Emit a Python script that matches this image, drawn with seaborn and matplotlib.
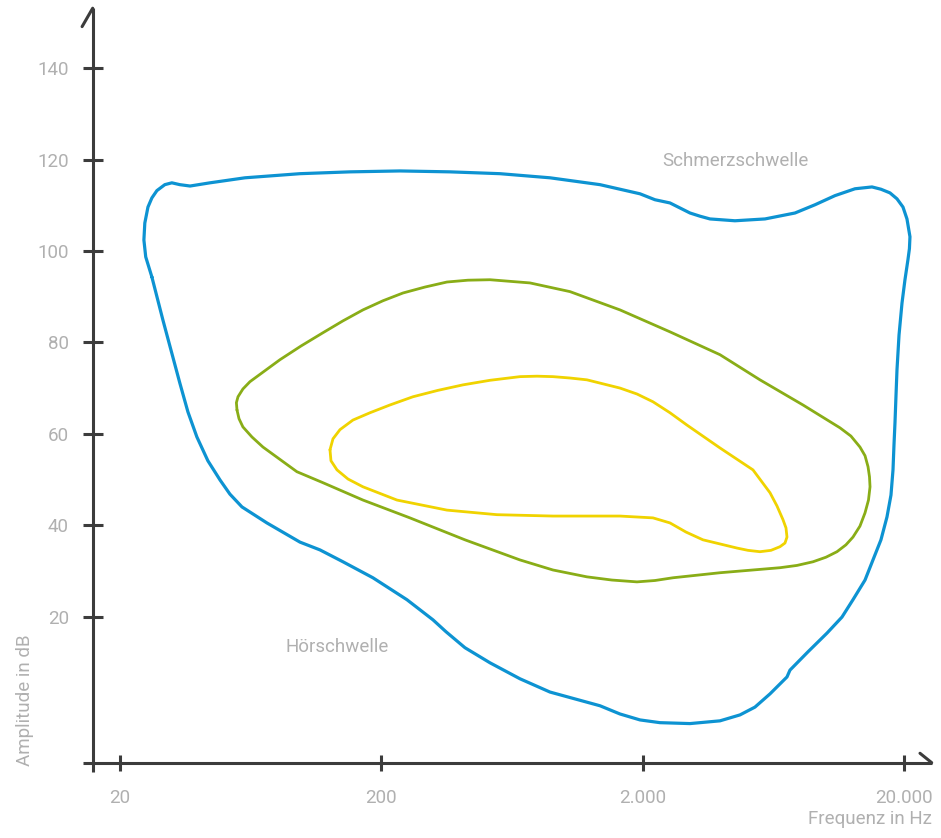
import numpy as np
import pandas as pd
import matplotlib
matplotlib.use("Agg")
import matplotlib.pyplot as plt
import seaborn as sns

# =====================================
# Data (frequency in Hz, level in dB)
# =====================================

# Schmerzschwelle / Hörschwelle outline (blue)
blue_hz = [26.5, 25.1, 24.7, 24.9, 25.6, 26.5, 27.7, 29.7, 31.6, 33.9,
           37.1, 44.2, 60.2, 97.7, 151.8, 235.8, 366.4, 569.2, 884.3, 1374,
           1955, 2231, 2546, 3037, 3317, 3622, 4514, 5882, 7661, 9138,
           10900, 13000, 15100, 16340, 17690, 18820, 19840, 20550, 21100, 21000,
           20730, 20190, 19670, 19160, 18820, 18660, 18490, 18330, 18170, 17850,
           17230, 16340, 15230, 14200, 12770, 11590, 10160, 8590, 7331, 7139,
           6147, 5383, 4719, 3956, 3037, 2331, 1955, 1639, 1374, 1102,
           884.3, 679.0, 521.2, 418.1, 353.7, 315.4, 250.8, 185.8, 142.7, 116.5,
           97.7, 73.0, 58.6, 52.7, 48.3, 43.4, 39.4, 36.4, 33.9, 29.2]
blue_db = [94.3, 98.7, 102.4, 106.1, 109.6, 111.6, 113.2, 114.5, 114.9, 114.5,
           114.2, 114.9, 116.0, 116.9, 117.3, 117.5, 117.3, 116.9, 116.0, 114.5,
           112.5, 111.2, 110.5, 108.3, 107.6, 107.0, 106.6, 107.0, 108.3, 110.1,
           112.1, 113.6, 114.0, 113.5, 112.7, 111.4, 109.6, 107.0, 103.1, 100.5,
           98.1, 93.7, 88.6, 81.6, 74.0, 68.5, 62.4, 57.6, 52.1, 46.6,
           41.8, 36.8, 32.4, 28.0, 23.7, 19.9, 16.4, 12.3, 8.3, 6.8,
           3.1, 0.2, -1.5, -2.8, -3.4, -3.2, -2.6, -1.3, 0.5, 2.0,
           3.5, 6.4, 9.9, 13.2, 16.7, 19.3, 23.7, 28.5, 32.0, 34.6,
           36.3, 40.5, 44.0, 46.8, 49.9, 54.1, 59.3, 64.8, 71.1, 84.9]

# Musik (green)
green_hz = [56.1, 55.8, 56.6, 59.1, 62.9, 81.9, 98.6, 119.6, 142.7, 170.2,
            203.0, 242.2, 294.0, 356.8, 429.3, 521.2, 741.7, 1055, 1639, 2546,
            3956, 5627, 8220, 11390, 12540, 13580, 14200, 14580, 14770, 14840,
            14640, 14200, 13580, 12770, 12000, 11090, 10070, 8980, 7797, 6714,
            3956, 2615, 2231, 1904, 1527, 1225, 908.1, 679.0, 418.1, 257.5,
            170.2, 119.6, 95.1, 70.5, 64.0, 59.1, 57.1]
green_db = [65.2, 66.8, 68.1, 69.8, 71.4, 76.2, 79.2, 82.1, 84.7, 87.1,
            89.1, 90.8, 92.1, 93.2, 93.6, 93.7, 93.0, 91.1, 87.1, 82.3,
            77.3, 71.8, 66.3, 61.3, 59.5, 57.1, 55.2, 52.8, 50.6, 48.4,
            45.5, 42.7, 39.8, 37.4, 35.7, 34.2, 33.0, 32.0, 31.2, 30.7,
            29.6, 28.5, 27.9, 27.6, 28.0, 28.7, 30.2, 32.4, 36.8, 41.6,
            45.5, 49.3, 51.7, 57.1, 59.3, 61.5, 63.3]

# Sprache (yellow)
yellow_hz = [127.3, 130.7, 139.0, 155.8, 181.1, 215.9, 264.5, 329.6, 410.8, 521.2,
             679.0, 788.7, 908.1, 1055, 1225, 1639, 1904, 2192, 2546, 2958,
             3956, 5291, 6147, 6538, 6893, 7077, 7139, 7015, 6714, 6201,
             5627, 5062, 4596, 3405, 2932, 2546, 2192, 1639, 908.1, 554.2,
             356.8, 229.7, 170.2, 149.2, 135.4, 128.4]
yellow_db = [56.5, 58.9, 60.9, 63.0, 64.6, 66.3, 68.1, 69.5, 70.7, 71.7,
             72.5, 72.6, 72.5, 72.2, 71.8, 70.0, 68.7, 67.0, 64.6, 61.9,
             56.9, 52.1, 47.1, 44.2, 41.2, 39.4, 37.4, 36.1, 35.3, 34.5,
             34.2, 34.5, 35.0, 36.8, 38.5, 40.5, 41.6, 42.0, 42.0, 42.3,
             43.3, 45.5, 48.4, 50.1, 52.1, 54.1]

x_ticks = [20, 200, 2000, 20000]
x_tick_labels = ["20", "200", "2.000", "20.000"]
y_ticks = [20, 40, 60, 80, 100, 120, 140]
y_tick_labels = ["20", "40", "60", "80", "100", "120", "140"]

# =====================================
# Style
# =====================================

sns.set_style("white")
plt.rcParams['font.family'] = ['Roboto', 'DejaVu Sans']

axis_color = "#3c3c3c"
text_color = "#b0b0b0"
font_size = 13.5

fig = plt.figure(figsize=(9.41, 8.38), dpi=100)
ax = fig.add_axes([0.0985, 0.0899, 0.8916, 0.9003])

# =====================================
# Curves
# =====================================

curves = [
    (blue_hz, blue_db, "#0d93d2", 2.3),
    (green_hz, green_db, "#89ad17", 2.0),
    (yellow_hz, yellow_db, "#f0d300", 2.0),
]

for hz, db, color, lw in curves:
    df = pd.DataFrame({
        "hz": hz + hz[:1],
        "db": db + db[:1],
    })
    sns.lineplot(
        data=df, x="hz", y="db", sort=False, estimator=None,
        color=color, linewidth=lw, ax=ax,
        solid_joinstyle="round", solid_capstyle="round"
    )

# =====================================
# Axes
# =====================================

ax.set_xscale("log")
ax.set_xlim(15.73, 25550)
ax.set_ylim(-11.95, 153.1)

for side in ["left", "right", "top", "bottom"]:
    ax.spines[side].set_visible(False)

ax.set_xticks(x_ticks)
ax.set_xticklabels(x_tick_labels)
ax.set_xticks([], minor=True)
ax.set_yticks(y_ticks)
ax.set_yticklabels(y_tick_labels)

ax.tick_params(axis="y", direction="inout", length=14.4, width=2.2,
               color=axis_color, pad=10.0, labelsize=font_size,
               labelcolor=text_color, left=True)
ax.tick_params(axis="x", direction="inout", length=12, width=2.2,
               color=axis_color, pad=13, labelsize=font_size,
               labelcolor=text_color, bottom=True)

ax.set_xlabel("")
ax.set_ylabel("")

# axis lines with half arrow heads
ax.axhline(ax.get_ylim()[0], xmin=-10 / 839, xmax=1, color=axis_color,
           lw=2.2, clip_on=False, solid_capstyle="butt")
ax.axvline(ax.get_xlim()[0], ymin=-9 / 754, ymax=1, color=axis_color,
           lw=2.2, clip_on=False, solid_capstyle="butt")
ax.plot([1, 1 - 11.7 / 839], [0, 9.4 / 754], transform=ax.transAxes,
        color=axis_color, lw=2.2, clip_on=False)
ax.plot([0, -10.6 / 839], [1, 1 - 18.4 / 754], transform=ax.transAxes,
        color=axis_color, lw=2.2, clip_on=False)

# =====================================
# Labels
# =====================================

ax.text(4514, 119.7, "Schmerzschwelle", color=text_color, fontsize=font_size,
        ha="center", va="center")
ax.text(136, 13.4, "Hörschwelle", color=text_color, fontsize=font_size,
        ha="center", va="center")

fig.text(931.7 / 941, 1 - 819 / 838, "Frequenz in Hz", color=text_color,
         fontsize=font_size, ha="right", va="center")
fig.text(25 / 941, 1 - 766 / 838, "Amplitude in dB", color=text_color,
         fontsize=font_size, rotation=90, ha="center", va="bottom")

fig.savefig("out.png", dpi=100)
